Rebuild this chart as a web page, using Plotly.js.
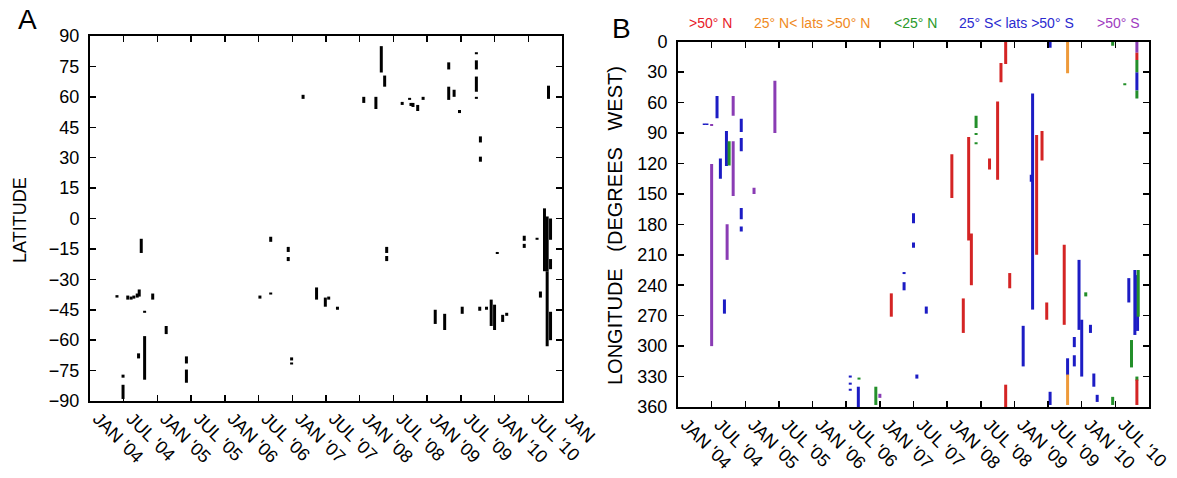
<!DOCTYPE html>
<html>
<head>
<meta charset="utf-8">
<script src="https://cdn.plot.ly/plotly-3.0.1.min.js"></script>
<style>html,body{margin:0;padding:0;background:#fff;}#chart{width:1177px;height:478px;}</style>
</head>
<body>
<div id="chart"></div>
<script>
// ---------- tick labels ----------
const tickVals = [2004, 2004.5, 2005, 2005.5, 2006, 2006.5, 2007, 2007.5, 2008, 2008.5, 2009, 2009.5, 2010, 2010.5, 2011];
const tickText = ["JAN '04", "JUL '04", "JAN '05", "JUL '05", "JAN '06", "JUL '06", "JAN '07", "JUL '07", "JAN '08", "JUL '08", "JAN '09", "JUL '09", "JAN '10", "JUL '10", "JAN"];
const latTicks = [-90, -75, -60, -45, -30, -15, 0, 15, 30, 45, 60, 75, 90];
const lonTicks = [0, 30, 60, 90, 120, 150, 180, 210, 240, 270, 300, 330, 360];

// ---------- panel A: latitude spans (decimal year, from, to) ----------
const latDate = [2004.40, 2004.56, 2004.61, 2004.65, 2004.70, 2004.73, 2004.76, 2004.81, 2004.72, 2004.81,
  2004.93, 2005.13, 2005.43, 2005.43, 2004.49, 2004.49, 2006.52, 2006.68, 2006.68, 2006.94,
  2006.94, 2006.99, 2006.99, 2007.16, 2007.36, 2007.49, 2007.54, 2007.67, 2008.06, 2008.24,
  2008.32, 2008.37, 2008.40, 2008.40, 2008.63, 2008.74, 2008.76, 2008.79, 2008.86, 2008.94,
  2009.12, 2009.26, 2009.32, 2009.32, 2009.40, 2009.48, 2009.52, 2009.73, 2009.73, 2009.73,
  2009.73, 2009.79, 2009.79, 2009.78, 2009.88, 2009.95, 2010.00, 2010.04, 2010.12, 2010.18,
  2010.44, 2010.44, 2010.63, 2010.68, 2010.74, 2010.78, 2010.78, 2010.83, 2010.83, 2010.83,
  2010.80];
const latFrom = [-37.8, -38, -38.5, -38, -37, -35, -10, -45.5, -66.5, -58,
  -37, -53, -68, -74.5, -77, -82, -38, -36.5, -9, -14,
  -19, -68.5, -71, 59, -34, -39, -38.5, -43.5, 57, 54,
  72, 65, -14, -18.5, 56, 58.5, 55.5, 55, 53, 58.5,
  -45, -47, 73.5, 58.5, 60, 52, -43.5, 81, 73.5, 62.5,
  59, 37.5, 28, -43.5, -43.5, -40, -42.5, -16.5, -47.5, -46.5,
  -8.5, -12.5, -9.5, -36, 5, 1, -26, 0, -20, -46,
  59];
const latTo = [-39, -40, -40, -39.5, -39, -38.5, -17, -46.5, -69, -79.5,
  -40, -57, -71.5, -81, -78.5, -89, -39.5, -37.5, -11.5, -16.5,
  -21, -70, -72, 61, -40, -43.5, -40, -45, 60, 60,
  85, 70.5, -17, -21, 57.5, 59.5, 57, 57, 56, 60,
  -52, -55, 77, 65, 63.5, 53.5, -47, 82, 78, 70,
  60, 40.5, 30.5, -45.5, -45, -53, -55, -17.5, -51, -48,
  -11, -14.5, -10.5, -39, -26, -26, -63, -10.5, -25, -60,
  65.5];

// ---------- panel B: longitude spans by latitude band ----------
const redDate = [2007.17, 2008.07, 2008.24, 2008.32, 2008.36, 2008.63, 2008.75, 2008.80, 2008.87, 2008.87, 2008.93, 2009.33, 2009.41, 2009.48, 2009.74, 2010.82, 2010.82];
const redFrom = [248, 111, 253, 94, 189, 115, 59, 21, 0, 338, 228, 92, 88, 257, 200, 11, 333];
const redTo   = [271, 154, 287, 196, 240, 126, 136, 40, 22, 360, 243, 210, 117, 274, 279, 18, 358];

const orangeDate = [2009.79, 2009.79];
const orangeFrom = [0, 328];
const orangeTo   = [31, 358];

const greenDate = [2004.76, 2006.69, 2006.94, 2008.43, 2008.43, 2008.43, 2010.06, 2010.46, 2010.46, 2010.64, 2010.74, 2010.84, 2010.82, 2010.82, 2010.82];
const greenFrom = [98, 331, 340, 73, 90, 99, 247, 0, 350, 41, 294, 225, 18, 48, 330];
const greenTo   = [122, 333, 358, 85, 92, 101, 251, 4, 358, 43, 321, 271, 30, 56, 334];

const blueDate = [2004.39, 2004.43, 2004.58, 2004.63, 2004.69, 2004.72, 2004.94, 2004.94, 2004.94, 2004.94,
  2006.56, 2006.56, 2006.56, 2006.68, 2007.36, 2007.36, 2007.50, 2007.50, 2007.55, 2007.69,
  2009.13, 2009.25, 2009.27, 2009.53, 2009.53, 2009.79, 2009.89, 2009.89, 2009.96, 2010.00,
  2010.13, 2010.18, 2010.23, 2010.70, 2010.79, 2010.83, 2010.82];
const blueFrom = [80.5, 80.5, 53.5, 115, 254, 88, 76, 95, 164, 182,
  329, 336, 342, 340, 227, 237, 169, 198, 328, 261,
  280, 131, 51, 0, 345, 312, 291, 309, 215, 274,
  279, 327, 348, 233, 225, 230, 30];
const blueTo = [82, 82, 75.5, 135, 268, 122.5, 89, 108, 175, 187,
  331, 338, 344, 360, 229, 245, 179, 203, 332, 268,
  320, 138, 264, 6, 358, 329, 301, 320, 284, 330,
  287, 340, 355, 257, 289, 285, 48];

const purpleDate = [2004.50, 2004.50, 2004.73, 2004.82, 2004.82, 2005.13, 2005.44, 2007.00, 2010.82];
const purpleFrom = [120.5, 81, 180, 53.5, 98, 144, 38.5, 347, 0];
const purpleTo   = [300, 83, 215, 73, 152, 150, 90, 351, 11];

const bandNames = ["&gt;50° N", "25° N&lt; lats &gt;50° N", "&lt;25° N", "25° S&lt; lats &gt;50° S", "&gt;50° S"];

// ---------- build segment traces ----------
function segs(dates, from, to) {
  const x = [], y = [];
  for (let i = 0; i < dates.length; i++) {
    x.push(dates[i], dates[i], null);
    y.push(from[i], to[i], null);
  }
  return {x, y};
}
function lineTrace(d, color, width, xa, ya) {
  return {type: 'scatter', mode: 'lines', x: d.x, y: d.y, xaxis: xa, yaxis: ya,
    line: {color: color, width: width}, hoverinfo: 'skip', showlegend: false, connectgaps: false};
}

const COL = {red: '#d42424', orange: '#ee9a3a', green: '#238f2a', blue: '#1c1cc4', purple: '#8a3cb4'};
const LEG = {red: '#e8202a', orange: '#f08a1e', green: '#2a9a2a', blue: '#2a2ad0', purple: '#a03cc0'};

const traces = [
  lineTrace(segs(latDate, latFrom, latTo), '#000', 3, 'x', 'y'),
  lineTrace(segs(purpleDate, purpleFrom, purpleTo), COL.purple, 3, 'x2', 'y2'),
  lineTrace(segs(blueDate, blueFrom, blueTo), COL.blue, 3, 'x2', 'y2'),
  lineTrace(segs(greenDate, greenFrom, greenTo), COL.green, 3, 'x2', 'y2'),
  lineTrace(segs(redDate, redFrom, redTo), COL.red, 3, 'x2', 'y2'),
  lineTrace(segs(orangeDate, orangeFrom, orangeTo), COL.orange, 3, 'x2', 'y2')
];

const W = 1177, H = 478;
const FONT = 'Liberation Sans, Arial, Helvetica, sans-serif';
function xAxis(domain, anchor) {
  return {domain: domain, anchor: anchor, range: [2004, 2011], tickmode: 'array', tickvals: tickVals, ticktext: tickText,
    tickangle: 45, ticks: 'inside', ticklen: 6, tickwidth: 1.5, tickcolor: '#000', mirror: 'ticks',
    showline: true, linecolor: '#000', linewidth: 2, showgrid: false, zeroline: false,
    ticklabelshift: 8, ticklabelstandoff: -2,
    tickfont: {family: FONT, size: 18, color: '#000'}, fixedrange: true};
}
function yAxis(domain, anchor, range, ticks) {
  return {domain: domain, anchor: anchor, range: range, tickmode: 'array', tickvals: ticks,
    ticks: 'inside', ticklen: 6, tickwidth: 1.5, tickcolor: '#000', mirror: 'ticks',
    showline: true, linecolor: '#000', linewidth: 2, showgrid: false, zeroline: false,
    ticklabelstandoff: 5,
    tickfont: {family: FONT, size: 18, color: '#000'}, fixedrange: true};
}

function note(text, px, py, size, color, angle, family) {
  return {text: text, x: px / W, y: 1 - py / H, xref: 'paper', yref: 'paper', xanchor: 'center', yanchor: 'middle',
    showarrow: false, textangle: angle || 0, font: {family: family || FONT, size: size, color: color}};
}
const annotations = [
  note('A', 27, 19, 28, '#000'),
  note('B', 621, 28, 28, '#000'),
  note('LATITUDE', 20, 220, 18, '#000', -90),
  note('LONGITUDE   (DEGREES   WEST)', 615, 226, 20, '#000', -90)
];
const legendX = [710, 812, 915, 1016, 1118];
const legendCol = [LEG.red, LEG.orange, LEG.green, LEG.blue, LEG.purple];
bandNames.forEach((t, i) => annotations.push(note(t, legendX[i], 23, 14, legendCol[i])));

const layout = {
  width: W, height: H, margin: {l: 0, r: 0, t: 0, b: 0}, paper_bgcolor: '#fff', plot_bgcolor: '#fff',
  showlegend: false, font: {family: FONT, color: '#000'},
  xaxis: xAxis([90 / W, 562 / W], 'y'),
  yaxis: yAxis([1 - 401 / H, 1 - 36 / H], 'x', [-90, 90], latTicks),
  xaxis2: xAxis([678 / W, 1149 / W], 'y2'),
  yaxis2: yAxis([1 - 407 / H, 1 - 41.7 / H], 'x2', [360, 0], lonTicks),
  annotations: annotations
};

Plotly.newPlot('chart', traces, layout, {staticPlot: true, displayModeBar: false});
</script>
</body>
</html>
